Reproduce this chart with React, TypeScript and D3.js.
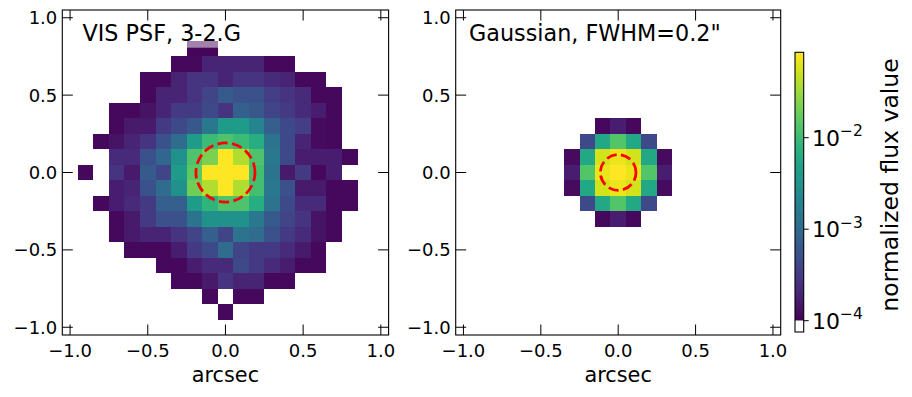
import React from 'react';
import * as d3 from 'd3';

const W = 912;
const H = 397;
const EXTENT = [-1.05, 1.05];
const PIX = 0.1;
const TICKS = [-1, -0.5, 0, 0.5, 1];
const TICK_LABELS = ['−1.0', '−0.5', '0.0', '0.5', '1.0'];
const CBAR_TICKS = [1e-4, 1e-3, 1e-2];
const CBAR_EXP = ['−4', '−3', '−2'];
const VMIN = 1e-4;
const VMAX = 0.0857;
const TITLES = ['VIS PSF, 3-2.G', 'Gaussian, FWHM=0.2"'];
const CIRCLE_R = [0.19, 0.115];
const X_LABEL = 'arcsec';
const CBAR_LABEL = 'normalized flux value';

// normalized flux, in units of 1e-4 (0 = below vmin / empty), rows top (+y) to bottom (-y)
const PSF_E4 = [
  [0,0,0,0,0,0,0,0,0,0,0,0,0,0,0,0,0,0,0,0,0],
  [0,0,0,0,0,0,0,0,0,0,0,0,0,0,0,0,0,0,0,0,0],
  [0,0,0,0,0,0,0,0,1.1,1.1,0,0,0,0,0,0,0,0,0,0,0],
  [0,0,0,0,0,0,0,1.15,1.15,1.96,1.96,1.96,1.96,1.15,1.15,0,0,0,0,0,0],
  [0,0,0,0,0,1.15,1.15,1.96,2.75,2.75,1.96,2.75,2.75,2.25,1.96,1.15,1.15,0,0,0,0],
  [0,0,0,0,0,1.15,1.96,1.96,2.75,3.86,6.63,5.41,5.41,3.37,2.75,2.25,1.15,1.15,0,0,0],
  [0,0,0,1.15,1.15,1.4,1.96,3.15,3.15,4.42,2.75,7.59,6.19,3.86,3.15,2.25,1.72,1.15,0,0,0],
  [0,0,0,1.15,1.6,1.6,3.15,4.42,6.19,14.9,41,41,20.9,7.59,4.42,3.37,1.22,1.15,0,0,0],
  [0,0,1.15,1.4,1.96,2.75,5.41,10.6,41,98.6,129,98.6,65.8,13,4.42,1.96,1.22,1.15,0,0,0],
  [0,0,0,2.25,2.25,5.41,9.29,29.3,129,222,857,381,129,14.9,4.42,1.72,1.72,1.72,1.15,0,0],
  [0,1.15,0,2.75,1.6,6.63,3.86,41,158,857,857,857,113,13,1.6,3.15,1.15,1.72,0,0,0],
  [0,0,0,1.72,1.96,5.41,10.6,29.3,194,381,857,381,113,14.9,5.41,1.6,1.6,1.15,1.15,0,0],
  [0,0,1.15,1.72,2.25,3.15,7.59,7.59,41,80.5,129,129,65.8,13,4.42,2.25,2.25,1.15,1.15,0,0],
  [0,0,0,1.15,1.6,3.15,5.41,5.41,13,29.3,29.3,29.3,14.9,6.63,3.86,2.75,1.4,1.15,0,0,0],
  [0,0,0,1.15,1.6,1.96,1.96,2.75,3.86,7.59,3.86,13,10.6,5.41,3.15,2.25,1.4,1.15,0,0,0],
  [0,0,0,0,1.15,1.15,1.15,1.72,3.15,4.42,10.6,3.86,3.15,3.15,2.25,1.6,1.15,0,0,0,0],
  [0,0,0,0,0,0,1.15,1.15,1.72,2.25,2.25,4.42,3.15,2.25,1.72,1.15,1.15,0,0,0,0],
  [0,0,0,0,0,0,0,1.15,1.15,1.6,2.75,1.96,1.96,1.15,1.15,0,0,0,0,0,0],
  [0,0,0,0,0,0,0,0,0,1.15,0,1.15,1.15,0,0,0,0,0,0,0,0],
  [0,0,0,0,0,0,0,0,0,0,1.15,0,0,0,0,0,0,0,0,0,0],
  [0,0,0,0,0,0,0,0,0,0,0,0,0,0,0,0,0,0,0,0,0],
];

const GAUSS_E4 = [
  [0,0,0,0,0,0,0,0,0,0,0,0,0,0,0,0,0,0,0,0,0],
  [0,0,0,0,0,0,0,0,0,0,0,0,0,0,0,0,0,0,0,0,0],
  [0,0,0,0,0,0,0,0,0,0,0,0,0,0,0,0,0,0,0,0,0],
  [0,0,0,0,0,0,0,0,0,0,0,0,0,0,0,0,0,0,0,0,0],
  [0,0,0,0,0,0,0,0,0,0,0,0,0,0,0,0,0,0,0,0,0],
  [0,0,0,0,0,0,0,0,0,0,0,0,0,0,0,0,0,0,0,0,0],
  [0,0,0,0,0,0,0,0,0,0,0,0,0,0,0,0,0,0,0,0,0],
  [0,0,0,0,0,0,0,0,0,1.15,1.72,1.15,0,0,0,0,0,0,0,0,0],
  [0,0,0,0,0,0,0,0,4.42,57.5,138,57.5,4.42,0,0,0,0,0,0,0,0],
  [0,0,0,0,0,0,0,1.22,57.5,534,698,534,57.5,1.22,0,0,0,0,0,0,0],
  [0,0,0,0,0,0,0,1.72,138,698,857,698,138,1.72,0,0,0,0,0,0,0],
  [0,0,0,0,0,0,0,1.22,57.5,534,698,534,57.5,1.22,0,0,0,0,0,0,0],
  [0,0,0,0,0,0,0,0,4.42,57.5,138,57.5,4.42,0,0,0,0,0,0,0,0],
  [0,0,0,0,0,0,0,0,0,1.15,1.72,1.15,0,0,0,0,0,0,0,0,0],
  [0,0,0,0,0,0,0,0,0,0,0,0,0,0,0,0,0,0,0,0,0],
  [0,0,0,0,0,0,0,0,0,0,0,0,0,0,0,0,0,0,0,0,0],
  [0,0,0,0,0,0,0,0,0,0,0,0,0,0,0,0,0,0,0,0,0],
  [0,0,0,0,0,0,0,0,0,0,0,0,0,0,0,0,0,0,0,0,0],
  [0,0,0,0,0,0,0,0,0,0,0,0,0,0,0,0,0,0,0,0,0],
  [0,0,0,0,0,0,0,0,0,0,0,0,0,0,0,0,0,0,0,0,0],
  [0,0,0,0,0,0,0,0,0,0,0,0,0,0,0,0,0,0,0,0,0],
];

const FONT = 'DejaVu Sans';
const norm = d3.scaleLog().domain([VMIN, VMAX]).range([0, 1]).clamp(true);
const yS = d3.scaleLinear().domain(EXTENT).range([335.0, 10.0]);
const cbY = d3.scaleLog().domain([VMIN, VMAX]).range([320.7, 52.3]);
const CB_X0 = 795;
const CB_X1 = 803.7;
const CB_BOTTOM = 332;
const TICK_LEN = 10.5;
const TICK_FS = 18;

function circlePath(cx: number, cy: number, r: number) {
  const p = d3.path();
  p.moveTo(cx + r, cy);
  p.arc(cx, cy, r, 0, -Math.PI, true);
  p.arc(cx, cy, r, -Math.PI, -2 * Math.PI, true);
  return p.toString();
}

function Panel({ data, x0, x1, title, radius, titleX }: any) {
  const xS = d3.scaleLinear().domain(EXTENT).range([x0, x1]);
  const cells: any[] = [];
  data.forEach((row: number[], r: number) => {
    row.forEach((v: number, c: number) => {
      if (v * 1e-4 < VMIN) return;
      const xa = xS(EXTENT[0] + PIX * c);
      const xb = xS(EXTENT[0] + PIX * (c + 1));
      const ya = yS(EXTENT[1] - PIX * r);
      const yb = yS(EXTENT[1] - PIX * (r + 1));
      cells.push(
        <rect key={`${r}-${c}`} x={xa} y={ya} width={xb - xa} height={yb - ya}
          fill={d3.interpolateViridis(norm(v * 1e-4))} shapeRendering="crispEdges" />
      );
    });
  });
  const top = yS(EXTENT[1]);
  const bottom = yS(EXTENT[0]);
  const r = xS(radius) - xS(0);
  return (
    <g>
      {cells}
      <path d={circlePath(xS(0), yS(0), r)} fill="none" stroke="#ff0000" strokeWidth={2.78}
        strokeDasharray="10.3 4.4" />
      <rect x={titleX - 6} y={13} width={172} height={34.7} fill="#ffffff" fillOpacity={0.5} />
      <text x={titleX} y={41} fontFamily={FONT} fontSize={22.3} fill="#000">{title}</text>
      <rect x={x0} y={top} width={x1 - x0} height={bottom - top} fill="none" stroke="#000" strokeWidth={1.1} />
      {TICKS.map((t, i) => (
        <g key={'x' + i}>
          <line x1={xS(t)} x2={xS(t)} y1={bottom} y2={bottom - TICK_LEN} stroke="#000" strokeWidth={1} />
          <line x1={xS(t)} x2={xS(t)} y1={top} y2={top + TICK_LEN} stroke="#000" strokeWidth={1} />
          <text x={xS(t)} y={356.5} textAnchor="middle" fontFamily={FONT} fontSize={TICK_FS}>{TICK_LABELS[i]}</text>
        </g>
      ))}
      {TICKS.map((t, i) => (
        <g key={'y' + i}>
          <line x1={x0} x2={x0 + TICK_LEN} y1={yS(t)} y2={yS(t)} stroke="#000" strokeWidth={1} />
          <line x1={x1} x2={x1 - TICK_LEN} y1={yS(t)} y2={yS(t)} stroke="#000" strokeWidth={1} />
          <text x={x0 - 5} y={yS(t)} dy="0.36em" textAnchor="end" fontFamily={FONT} fontSize={TICK_FS}>{TICK_LABELS[i]}</text>
        </g>
      ))}
      <text x={(x0 + x1) / 2} y={381.5} textAnchor="middle" fontFamily={FONT} fontSize={20.8}>{X_LABEL}</text>
    </g>
  );
}

export default function App() {
  const stops = d3.range(0, 1.0001, 0.05);
  return (
    <svg width={W} height={H} style={{ position: 'absolute', left: 0, top: 0, background: '#fff' }}>
      <defs>
        <linearGradient id="vir" x1="0" y1="1" x2="0" y2="0">
          {stops.map((s) => (
            <stop key={s} offset={s} stopColor={d3.interpolateViridis(s)} />
          ))}
        </linearGradient>
      </defs>
      <rect x={0} y={0} width={W} height={H} fill="#fff" />
      <Panel data={PSF_E4} x0={62.3} x1={388.6} title={TITLES[0]} radius={CIRCLE_R[0]} titleX={82.5} />
      <Panel data={GAUSS_E4} x0={455.7} x1={780.7} title={TITLES[1]} radius={CIRCLE_R[1]} titleX={469} />
      <rect x={CB_X0} y={cbY(VMAX)} width={CB_X1 - CB_X0} height={cbY(VMIN) - cbY(VMAX)} fill="url(#vir)" />
      <rect x={CB_X0} y={cbY(VMIN)} width={CB_X1 - CB_X0} height={CB_BOTTOM - cbY(VMIN)} fill="#fff" />
      <rect x={CB_X0} y={cbY(VMAX)} width={CB_X1 - CB_X0} height={CB_BOTTOM - cbY(VMAX)} fill="none" stroke="#000" strokeWidth={1.1} />
      {CBAR_TICKS.map((t, i) => (
        <g key={'cb' + i}>
          <line x1={CB_X1} x2={CB_X1 + 5} y1={cbY(t)} y2={cbY(t)} stroke="#000" strokeWidth={1} />
          <text x={812} y={cbY(t) + 8} fontFamily={FONT} fontSize={22}>
            10<tspan dy={-9.5} fontSize={15.5}>{CBAR_EXP[i]}</tspan>
          </text>
        </g>
      ))}
      <text transform={`translate(898,${(52.3 + 320.7) / 2 - 1.5}) rotate(-90)`} textAnchor="middle"
        fontFamily={FONT} fontSize={23.5}>{CBAR_LABEL}</text>
    </svg>
  );
}
